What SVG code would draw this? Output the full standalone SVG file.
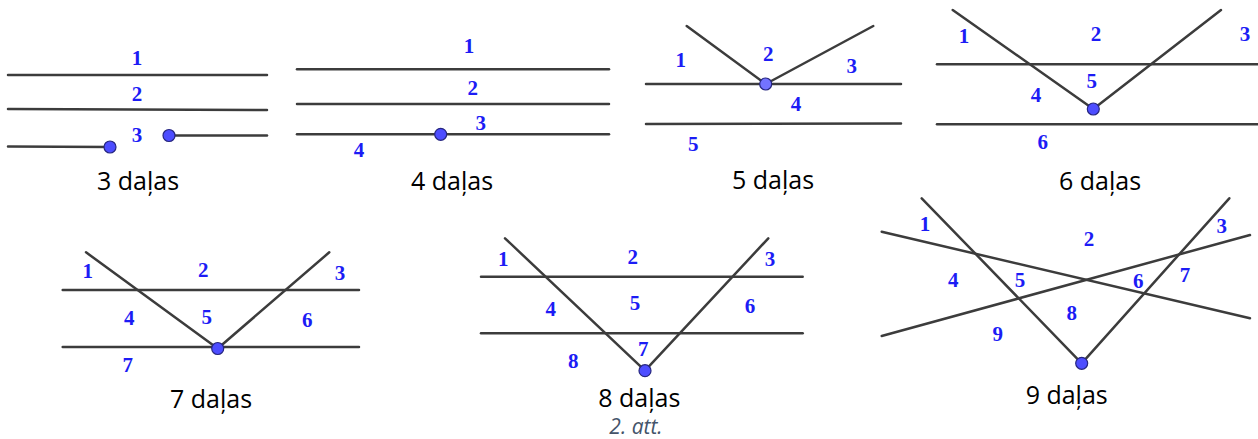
<svg xmlns="http://www.w3.org/2000/svg" width="1258" height="439" viewBox="0 0 1258 439">
<style>
.ln{stroke:#3c3c3c;stroke-width:2.5;fill:none;stroke-linecap:round}
.pt{fill:#4d4dff;stroke:#262680;stroke-width:1.2}
.lb{font-family:"Liberation Serif",serif;font-weight:bold;font-size:21px;fill:#1c1cf5;text-anchor:middle}
.cap{font-family:"Open Sans","Liberation Sans",sans-serif;font-size:25px;fill:#000;text-anchor:middle}
.att{font-family:"Open Sans","Liberation Sans",sans-serif;font-style:italic;font-size:21px;fill:#44546a;text-anchor:middle}
</style>
<rect width="1258" height="439" fill="#fff"/>
<g id="connectors">
<line class="ln" x1="8" y1="75" x2="267" y2="75"/>
<line class="ln" x1="8" y1="109" x2="267" y2="110"/>
<line class="ln" x1="8" y1="146.5" x2="110" y2="147"/>
<line class="ln" x1="169" y1="135.5" x2="267" y2="135.5"/>
<line class="ln" x1="297" y1="69.3" x2="609" y2="69.3"/>
<line class="ln" x1="297" y1="104" x2="609" y2="104"/>
<line class="ln" x1="297" y1="134.3" x2="609" y2="134.3"/>
<line class="ln" x1="646" y1="84" x2="901" y2="84"/>
<line class="ln" x1="646" y1="124" x2="901" y2="123.5"/>
<line class="ln" x1="686.7" y1="26" x2="765.7" y2="84"/>
<line class="ln" x1="873.3" y1="26" x2="765.7" y2="84"/>
<line class="ln" x1="937" y1="64.3" x2="1258" y2="64.3"/>
<line class="ln" x1="937" y1="124.3" x2="1258" y2="124.3"/>
<line class="ln" x1="952.7" y1="10" x2="1093.3" y2="109"/>
<line class="ln" x1="1221" y1="10" x2="1093.3" y2="109"/>
<line class="ln" x1="62.7" y1="290" x2="359" y2="290"/>
<line class="ln" x1="62.7" y1="347" x2="359" y2="347"/>
<line class="ln" x1="86" y1="252.3" x2="217.7" y2="348.5"/>
<line class="ln" x1="329.3" y1="252.3" x2="217.7" y2="348.5"/>
<line class="ln" x1="481" y1="276.7" x2="802.7" y2="276.7"/>
<line class="ln" x1="481" y1="333.3" x2="802.7" y2="333.3"/>
<line class="ln" x1="505" y1="238.3" x2="645" y2="370.7"/>
<line class="ln" x1="768.3" y1="238.3" x2="645" y2="370.7"/>
<line class="ln" x1="881.7" y1="231.7" x2="1250" y2="318.3"/>
<line class="ln" x1="881.7" y1="336" x2="1250" y2="235"/>
<line class="ln" x1="921.7" y1="198.3" x2="1081.7" y2="363.3"/>
<line class="ln" x1="1229.3" y1="198.3" x2="1081.7" y2="363.3"/>
</g>
<g id="panel3parts">
<circle class="pt" cx="110" cy="147" r="6"/>
<circle class="pt" cx="169" cy="135.5" r="6"/>
<text class="lb" x="137" y="65">1</text>
<text class="lb" x="137" y="101">2</text>
<text class="lb" x="137" y="142">3</text>
<text class="cap" x="138" y="190">3 daļas</text>
</g>
<g id="panel4parts">
<circle class="pt" cx="440.7" cy="134.3" r="6"/>
<text class="lb" x="469" y="53.3">1</text>
<text class="lb" x="472.7" y="95">2</text>
<text class="lb" x="480.7" y="130">3</text>
<text class="lb" x="359" y="157">4</text>
<text class="cap" x="452" y="190">4 daļas</text>
</g>
<g id="panel5parts">
<circle class="pt" cx="765.7" cy="84" r="6" style="fill:#7373ff"/>
<text class="lb" x="680.7" y="67.3">1</text>
<text class="lb" x="768.3" y="61">2</text>
<text class="lb" x="851.7" y="72.7">3</text>
<text class="lb" x="796" y="110.7">4</text>
<text class="lb" x="693.3" y="150.7">5</text>
<text class="cap" x="773" y="189">5 daļas</text>
</g>
<g id="panel6parts">
<circle class="pt" cx="1093.3" cy="109" r="6"/>
<text class="lb" x="964" y="43.3">1</text>
<text class="lb" x="1096" y="40.7">2</text>
<text class="lb" x="1245" y="40.7">3</text>
<text class="lb" x="1036" y="102.3">4</text>
<text class="lb" x="1091.7" y="87.7">5</text>
<text class="lb" x="1042.7" y="149.3">6</text>
<text class="cap" x="1100" y="190">6 daļas</text>
</g>
<g id="panel7parts">
<circle class="pt" cx="217.7" cy="348.5" r="6"/>
<text class="lb" x="87.7" y="278.3">1</text>
<text class="lb" x="203.3" y="277.3">2</text>
<text class="lb" x="340" y="280">3</text>
<text class="lb" x="129.3" y="325">4</text>
<text class="lb" x="206.7" y="324">5</text>
<text class="lb" x="307.3" y="327.3">6</text>
<text class="lb" x="127.7" y="371.7">7</text>
<text class="cap" x="211" y="408">7 daļas</text>
</g>
<g id="panel8parts">
<circle class="pt" cx="645" cy="370.7" r="6"/>
<text class="lb" x="503.3" y="266">1</text>
<text class="lb" x="632.7" y="264">2</text>
<text class="lb" x="770" y="266">3</text>
<text class="lb" x="550.7" y="316">4</text>
<text class="lb" x="635" y="310">5</text>
<text class="lb" x="750" y="313.3">6</text>
<text class="lb" x="643.3" y="356">7</text>
<text class="lb" x="573.3" y="368.3">8</text>
<text class="cap" x="639.3" y="407">8 daļas</text>
<text class="att" x="636" y="434">2. att.</text>
</g>
<g id="panel9parts">
<circle class="pt" cx="1081.7" cy="363.3" r="6"/>
<text class="lb" x="925" y="230.7">1</text>
<text class="lb" x="1089" y="246">2</text>
<text class="lb" x="1221.7" y="232.7">3</text>
<text class="lb" x="953.3" y="286.7">4</text>
<text class="lb" x="1020" y="286.7">5</text>
<text class="lb" x="1138.3" y="287.7">6</text>
<text class="lb" x="1185" y="281.7">7</text>
<text class="lb" x="1071.7" y="320">8</text>
<text class="lb" x="997.7" y="340.7">9</text>
<text class="cap" x="1066.7" y="404">9 daļas</text>
</g>
</svg>
